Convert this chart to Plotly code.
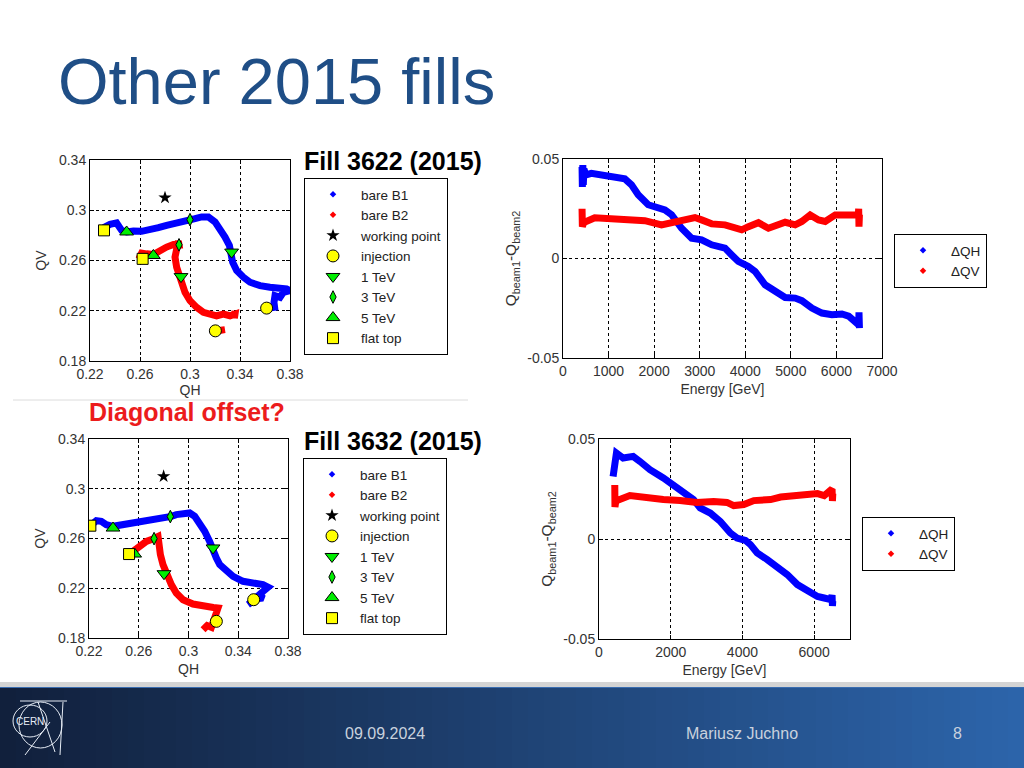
import plotly.graph_objects as go

W, H = 1024, 768
FONT = "Liberation Sans, Arial, sans-serif"

# ---------------- Fill 3622 tune diagram (QH, QV) ----------------
f1_b1_qh = [0.3680, 0.3672, 0.3680, 0.3720, 0.3747, 0.3800, 0.3773, 0.3707, 0.3640, 0.3560,
            0.3480, 0.3427, 0.3373, 0.3341, 0.3331, 0.3315, 0.3280, 0.3240, 0.3200, 0.3147,
            0.3093, 0.3040, 0.3000, 0.2933, 0.2867, 0.2813, 0.2747, 0.2680, 0.2613, 0.2547,
            0.2493, 0.2453, 0.2413, 0.2360, 0.2320, 0.2312]
f1_b1_qv = [0.2200, 0.2267, 0.2320, 0.2307, 0.2347, 0.2360, 0.2373, 0.2387, 0.2387, 0.2400,
            0.2427, 0.2467, 0.2520, 0.2587, 0.2667, 0.2720, 0.2787, 0.2853, 0.2907, 0.2947,
            0.2947, 0.2933, 0.2925, 0.2915, 0.2899, 0.2880, 0.2861, 0.2848, 0.2832, 0.2835,
            0.2827, 0.2840, 0.2899, 0.2888, 0.2867, 0.2840]
f1_b2_qh = [0.3167, 0.3200, 0.3247, 0.3280, None,
            0.3360, 0.3355, 0.3360, 0.3320, 0.3267, 0.3213, 0.3160, 0.3107, 0.3053, 0.3000,
            0.2960, 0.2933, 0.2920, 0.2893, 0.2880, 0.2887, 0.2907, 0.2912, 0.2867, 0.2813,
            0.2760, 0.2707, 0.2653, 0.2613, 0.2600, 0.2621]
f1_b2_qv = [0.2045, 0.2035, 0.2045, 0.2050, None,
            0.2200, 0.2140, 0.2173, 0.2160, 0.2173, 0.2160, 0.2173, 0.2187, 0.2227, 0.2280,
            0.2347, 0.2413, 0.2472, 0.2547, 0.2627, 0.2693, 0.2755, 0.2725, 0.2728, 0.2707,
            0.2680, 0.2648, 0.2653, 0.2659, 0.2632, 0.2613]
f1_inj_qh = [0.3613, 0.3203]
f1_inj_qv = [0.2221, 0.2040]
f1_1tev_qh = [0.3333, 0.2928]
f1_1tev_qv = [0.2667, 0.2472]
f1_3tev_qh = [0.3000, 0.2912]
f1_3tev_qv = [0.2925, 0.2725]
f1_5tev_qh = [0.2493, 0.2707]
f1_5tev_qv = [0.2827, 0.2640]
f1_top_qh = [0.2312, 0.2621]
f1_top_qv = [0.2840, 0.2613]

# ---------------- Fill 3632 tune diagram ----------------
f2_b1_qh = [0.3478, 0.3505, 0.3545, 0.3600, 0.3572, 0.3600, 0.3640, 0.3599, 0.3519, 0.3438,
            0.3358, 0.3304, 0.3251, 0.3224, 0.3197, 0.3170, 0.3130, 0.3090, 0.3050, 0.3010,
            0.2956, 0.2902, 0.2862, 0.2795, 0.2715, 0.2634, 0.2554, 0.2473, 0.2393, 0.2339,
            0.2299, 0.2259, 0.2211]
f2_b1_qv = [0.2068, 0.2095, 0.2116, 0.2121, 0.2150, 0.2175, 0.2208, 0.2229, 0.2242, 0.2256,
            0.2296, 0.2336, 0.2390, 0.2443, 0.2524, 0.2577, 0.2658, 0.2725, 0.2778, 0.2805,
            0.2805, 0.2792, 0.2778, 0.2765, 0.2751, 0.2738, 0.2725, 0.2711, 0.2698, 0.2711,
            0.2738, 0.2743, 0.2703]
f2_b2_qh = [0.3117, 0.3150, 0.3184, 0.3210, 0.3237, 0.3237, 0.3200, 0.3117, 0.3036, 0.2956,
            0.2902, 0.2862, 0.2822, 0.2795, 0.2774, 0.2760, 0.2755, 0.2740, 0.2723, 0.2661,
            0.2594, 0.2554, 0.2522]
f2_b2_qv = [0.1867, 0.1900, 0.1886, 0.1960, 0.2000, 0.2041, 0.2045, 0.2055, 0.2073, 0.2108,
            0.2162, 0.2229, 0.2309, 0.2390, 0.2470, 0.2550, 0.2617, 0.2610, 0.2599, 0.2577,
            0.2537, 0.2497, 0.2475]
f2_inj_qh = [0.3524, 0.3224]
f2_inj_qv = [0.2108, 0.1934]
f2_1tev_qh = [0.3197, 0.2803]
f2_1tev_qv = [0.2524, 0.2317]
f2_3tev_qh = [0.2854, 0.2723]
f2_3tev_qv = [0.2776, 0.2599]
f2_5tev_qh = [0.2393, 0.2567]
f2_5tev_qv = [0.2684, 0.2475]
f2_top_qh = [0.2211, 0.2522]
f2_top_qv = [0.2703, 0.2475]

wp_qh = [0.28]
wp_qv = [0.31]

# ---------------- Fill 3622 delta vs energy ----------------
e1_dqh = [418, 425, 435, 445, 460, 500, 623, 800, 990, 1210, 1356, 1503, 1650, 1870, 2089,
          2236, 2382, 2602, 2822, 3042, 3262, 3555, 3702, 3848, 4068, 4215, 4435, 4655, 4875,
          5095, 5241, 5461, 5681, 5901, 6121, 6268, 6415, 6488, 6495, 6505]
d1_dqh = [0.046, 0.036, 0.047, 0.037, 0.045, 0.042, 0.0428, 0.042, 0.041, 0.040, 0.040, 0.037,
          0.032, 0.027, 0.0256, 0.0244, 0.022, 0.0152, 0.0102, 0.0094, 0.0069, 0.0052, 0.0018,
          -0.0015, -0.004, -0.0065, -0.0132, -0.0166, -0.0196, -0.0199, -0.0212, -0.0249,
          -0.0274, -0.0283, -0.0279, -0.029, -0.0316, -0.0333, -0.027, -0.035]
e1_dqv = [418, 425, 440, 455, 696, 1063, 1430, 1796, 2162, 2455, 2602, 2895, 3042, 3262, 3555,
          3775, 3922, 4068, 4288, 4508, 4655, 4875, 5095, 5241, 5424, 5608, 5754, 5974, 6194,
          6480, 6488, 6495, 6505]
d1_dqv = [0.025, 0.016, 0.024, 0.018, 0.0205, 0.0202, 0.0194, 0.019, 0.0169, 0.0182, 0.0188,
          0.0206, 0.0194, 0.0174, 0.0169, 0.0152, 0.0144, 0.016, 0.018, 0.0152, 0.0164, 0.0182,
          0.0169, 0.0186, 0.0219, 0.0194, 0.0186, 0.0219, 0.0219, 0.0219, 0.025, 0.016, 0.022]

# ---------------- Fill 3632 delta vs energy ----------------
e2_dqh = [393, 400, 440, 445, 455, 486, 673, 860, 953, 1140, 1421, 1794, 2075, 2355, 2636,
          2822, 3103, 3383, 3664, 3850, 4084, 4224, 4411, 4692, 4972, 5252, 5533, 5813, 6093,
          6280, 6467, 6500, 6510, 6520]
d2_dqh = [0.0313, 0.0330, 0.036, 0.043, 0.037, 0.043, 0.0405, 0.0405, 0.0413, 0.0388, 0.0347,
          0.0305, 0.0272, 0.0238, 0.0197, 0.0155, 0.013, 0.0088, 0.003, 0.0005, -0.0007,
          -0.0028, -0.007, -0.0103, -0.0137, -0.0178, -0.0228, -0.0262, -0.0287, -0.0295,
          -0.0303, -0.028, -0.0335, -0.031]
e2_dqv = [440, 445, 455, 470, 860, 1327, 1794, 2262, 2729, 3196, 3570, 3757, 4037, 4318, 4598,
          4785, 5065, 5346, 5626, 5907, 6093, 6280, 6500, 6510, 6520]
d2_dqv = [0.027, 0.016, 0.025, 0.019, 0.0217, 0.0205, 0.0197, 0.0192, 0.0183, 0.0188, 0.0183,
          0.0167, 0.0172, 0.0192, 0.0193, 0.0197, 0.021, 0.0217, 0.0222, 0.023, 0.0227, 0.0217,
          0.025, 0.019, 0.0227]

tune_ticks = [0.18, 0.22, 0.26, 0.30, 0.34]
tune_tick_text = ["0.18", "0.22", "0.26", "0.3", "0.34"]
qh_ticks = [0.22, 0.26, 0.30, 0.34, 0.38]
qh_tick_text = ["0.22", "0.26", "0.3", "0.34", "0.38"]
delta_ticks = [-0.05, 0, 0.05]
delta_tick_text = ["-0.05", "0", "0.05"]
energy_ticks_a = [0, 1000, 2000, 3000, 4000, 5000, 6000, 7000]
energy_ticks_b = [0, 2000, 4000, 6000]

BLUE, RED, GREEN, YELLOW = "#0000ff", "#ff0000", "#00ee00", "#ffff00"


def px(x):
    return x / W


def py(y):
    return 1 - y / H


fig = go.Figure()


def tune_panel(xa, ya, leg, b1x, b1y, b2x, b2y, inj, t1, t3, t5, top):
    kw = dict(xaxis=xa, yaxis=ya)
    fig.add_trace(go.Scatter(x=b1x, y=b1y, mode="lines", line=dict(color=BLUE, width=7),
                             showlegend=False, hoverinfo="skip", **kw))
    fig.add_trace(go.Scatter(x=b2x, y=b2y, mode="lines", line=dict(color=RED, width=7),
                             showlegend=False, hoverinfo="skip", **kw))
    fig.add_trace(go.Scatter(x=[None], y=[None], mode="markers", name="bare B1", legend=leg,
                             marker=dict(color=BLUE, size=5, symbol="diamond"), **kw))
    fig.add_trace(go.Scatter(x=[None], y=[None], mode="markers", name="bare B2", legend=leg,
                             marker=dict(color=RED, size=5, symbol="diamond"), **kw))
    fig.add_trace(go.Scatter(x=wp_qh, y=wp_qv, mode="markers", name="working point", legend=leg,
                             marker=dict(color="black", size=10, symbol="star"), **kw))
    specs = [("injection", inj, "circle", YELLOW, 12),
             ("1 TeV", t1, "triangle-down", GREEN, 12),
             ("3 TeV", t3, "diamond-tall", GREEN, 9),
             ("5 TeV", t5, "triangle-up", GREEN, 12),
             ("flat top", top, "square", YELLOW, 11)]
    for name, (xs, ys), sym, col, sz in specs:
        fig.add_trace(go.Scatter(x=xs, y=ys, mode="markers", name=name, legend=leg,
                                 marker=dict(color=col, size=sz, symbol=sym,
                                             line=dict(color="black", width=1)), **kw))


def delta_panel(xa, ya, leg, eh, dh, ev, dv):
    kw = dict(xaxis=xa, yaxis=ya)
    fig.add_trace(go.Scatter(x=eh, y=dh, mode="lines", line=dict(color=BLUE, width=7),
                             showlegend=False, hoverinfo="skip", **kw))
    fig.add_trace(go.Scatter(x=ev, y=dv, mode="lines", line=dict(color=RED, width=7),
                             showlegend=False, hoverinfo="skip", **kw))
    fig.add_trace(go.Scatter(x=[None], y=[None], mode="markers", name="\u0394QH", legend=leg,
                             marker=dict(color=BLUE, size=5, symbol="diamond"), **kw))
    fig.add_trace(go.Scatter(x=[None], y=[None], mode="markers", name="\u0394QV", legend=leg,
                             marker=dict(color=RED, size=5, symbol="diamond"), **kw))


tune_panel("x", "y", "legend", f1_b1_qh, f1_b1_qv, f1_b2_qh, f1_b2_qv,
           (f1_inj_qh, f1_inj_qv), (f1_1tev_qh, f1_1tev_qv), (f1_3tev_qh, f1_3tev_qv),
           (f1_5tev_qh, f1_5tev_qv), (f1_top_qh, f1_top_qv))
delta_panel("x2", "y2", "legend2", e1_dqh, d1_dqh, e1_dqv, d1_dqv)
tune_panel("x3", "y3", "legend3", f2_b1_qh, f2_b1_qv, f2_b2_qh, f2_b2_qv,
           (f2_inj_qh, f2_inj_qv), (f2_1tev_qh, f2_1tev_qv), (f2_3tev_qh, f2_3tev_qv),
           (f2_5tev_qh, f2_5tev_qv), (f2_top_qh, f2_top_qv))
delta_panel("x4", "y4", "legend4", e2_dqh, d2_dqh, e2_dqv, d2_dqv)

tickfont = dict(family=FONT, size=14, color="#333")
titlefont = dict(family=FONT, size=14, color="#333")
qtitlefont = dict(family=FONT, size=15.5, color="#333")


def axis(domain, rng, tv, tt, title, anchor, standoff=6, tfont=titlefont):
    return dict(domain=domain, range=rng, anchor=anchor, tickvals=tv, ticktext=tt,
                showline=True, linecolor="black", linewidth=1, mirror="ticks",
                ticks="inside", ticklen=4, tickcolor="black", showgrid=True,
                gridcolor="black", griddash="dot", gridwidth=1, zeroline=False,
                tickfont=tickfont, automargin=False, fixedrange=True,
                title=dict(text=title, font=tfont, standoff=standoff))


legend_common = dict(xanchor="left", yanchor="top", bordercolor="black", borderwidth=1,
                     bgcolor="white", font=dict(family=FONT, size=13.5, color="#222"),
                     itemwidth=46, tracegroupgap=0)

qtitle = "Q<sub>beam1</sub>-Q<sub>beam2</sub>"

fig.update_layout(
    width=W, height=H, margin=dict(l=0, r=0, t=0, b=0),
    paper_bgcolor="white", plot_bgcolor="white", template="none",
    xaxis=axis([px(90), px(290)], [0.22, 0.38], qh_ticks, qh_tick_text, "QH", "y", 3),
    yaxis=axis([py(361), py(160)], [0.18, 0.34], tune_ticks, tune_tick_text, "QV", "x", 9),
    xaxis2=axis([px(563), px(882)], [0, 7000], energy_ticks_a,
                [str(v) for v in energy_ticks_a], "Energy [GeV]", "y2"),
    yaxis2=axis([py(358), py(159)], [-0.05, 0.05], delta_ticks, delta_tick_text,
                qtitle, "x2", 6, qtitlefont),
    xaxis3=axis([px(89), px(288)], [0.22, 0.38], qh_ticks, qh_tick_text, "QH", "y3"),
    yaxis3=axis([py(638), py(439)], [0.18, 0.34], tune_ticks, tune_tick_text, "QV", "x3", 9),
    xaxis4=axis([px(599), px(850)], [0, 7000], energy_ticks_b,
                [str(v) for v in energy_ticks_b], "Energy [GeV]", "y4"),
    yaxis4=axis([py(639), py(439)], [-0.05, 0.05], delta_ticks, delta_tick_text,
                qtitle, "x4", 6, qtitlefont),
    legend=dict(x=px(304), y=py(178), **legend_common),
    legend2=dict(x=px(894), y=py(234), **legend_common),
    legend3=dict(x=px(303), y=py(458), **legend_common),
    legend4=dict(x=px(862), y=py(517), **legend_common),
    showlegend=True,
)

shapes = []
# footer gradient band
N = 64
c0, c1 = (17, 32, 60), (44, 100, 170)
for i in range(N):
    t = i / (N - 1)
    col = "rgb(%d,%d,%d)" % tuple(round(a + (b - a) * t) for a, b in zip(c0, c1))
    shapes.append(dict(type="rect", xref="paper", yref="paper", x0=px(i * W / N),
                       x1=px((i + 1) * W / N + 1), y0=py(768), y1=py(687),
                       fillcolor=col, line=dict(width=0), layer="below"))
shapes.append(dict(type="rect", xref="paper", yref="paper", x0=0, x1=1, y0=py(687), y1=py(682),
                   fillcolor="#d4d4d4", line=dict(width=0), layer="below"))
shapes.append(dict(type="line", xref="paper", yref="paper", x0=0, x1=1, y0=py(687.5), y1=py(687.5),
                   line=dict(color="#3a6db0", width=1)))
# separator line
shapes.append(dict(type="line", xref="paper", yref="paper", x0=px(13), x1=px(468),
                   y0=py(400), y1=py(400), line=dict(color="#dcdcdc", width=1)))
# CERN logo
lw = dict(color="#e6ecf5", width=1)
shapes += [
    dict(type="circle", xref="paper", yref="paper", x0=px(13), x1=px(47), y0=py(737), y1=py(705), line=lw),
    dict(type="circle", xref="paper", yref="paper", x0=px(19), x1=px(62), y0=py(748), y1=py(702), line=lw),
    dict(type="line", xref="paper", yref="paper", x0=px(20), x1=px(67), y0=py(701), y1=py(701), line=lw),
    dict(type="line", xref="paper", yref="paper", x0=px(63), x1=px(60), y0=py(702), y1=py(755), line=lw),
    dict(type="line", xref="paper", yref="paper", x0=px(38), x1=px(55), y0=py(702), y1=py(752), line=lw),
    dict(type="line", xref="paper", yref="paper", x0=px(25), x1=px(50), y0=py(755), y1=py(722), line=lw),
]
fig.update_layout(shapes=shapes)

ann = [
    dict(text="Other 2015 fills", x=px(56), y=py(81), xanchor="left", yanchor="middle",
         font=dict(family=FONT, size=65, color="#1f4e86")),
    dict(text="<b>Fill 3622 (2015)</b>", x=px(302), y=py(161), xanchor="left", yanchor="middle",
         font=dict(family=FONT, size=25, color="black")),
    dict(text="<b>Fill 3632 (2015)</b>", x=px(302), y=py(441), xanchor="left", yanchor="middle",
         font=dict(family=FONT, size=25, color="black")),
    dict(text="<b>Diagonal offset?</b>", x=px(87), y=py(412), xanchor="left", yanchor="middle",
         font=dict(family=FONT, size=25, color="#ec1c1c")),
    dict(text="CERN", x=px(30), y=py(721), xanchor="center", yanchor="middle",
         font=dict(family=FONT, size=10, color="#e6ecf5")),
    dict(text="09.09.2024", x=px(385), y=py(733), xanchor="center", yanchor="middle",
         font=dict(family=FONT, size=16, color="#c9d2de")),
    dict(text="Mariusz Juchno", x=px(742), y=py(733), xanchor="center", yanchor="middle",
         font=dict(family=FONT, size=16, color="#c9d2de")),
    dict(text="8", x=px(957), y=py(733), xanchor="center", yanchor="middle",
         font=dict(family=FONT, size=16, color="#c9d2de")),
]
for a in ann:
    a.update(xref="paper", yref="paper", showarrow=False)
fig.update_layout(annotations=ann)

fig.write_html("out.html", config={"displayModeBar": False},
               post_script="document.body.style.margin='0';document.body.style.overflow='hidden';")
